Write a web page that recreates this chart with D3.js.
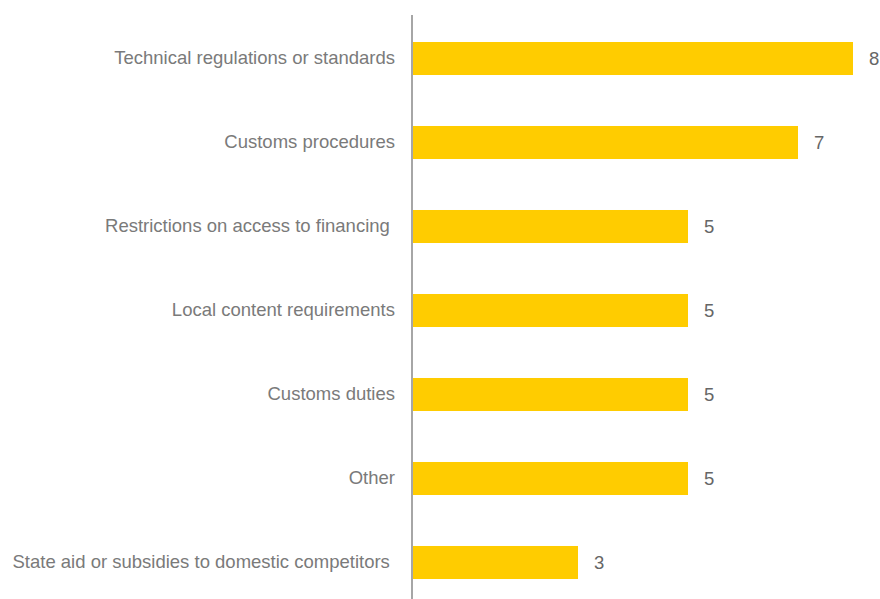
<!DOCTYPE html>
<html>
<head>
<meta charset="utf-8">
<script src="https://cdn.jsdelivr.net/npm/d3@7"></script>
<style>
  body { margin: 0; background: #fff; }
  svg { display: block; }
</style>
</head>
<body>
<svg id="chart"></svg>
<script>
// barrier categories, top to bottom
const categories = [
  "Technical regulations or standards",
  "Customs procedures",
  "Restrictions on access to financing ",
  "Local content requirements",
  "Customs duties",
  "Other",
  "State aid or subsidies to domestic competitors "
];
const values = [8, 7, 5, 5, 5, 5, 3];

const width = 880, height = 599;
const axisX = 412;

const svg = d3.select("#chart")
    .attr("width", width)
    .attr("height", height);

const data = categories.map((c, i) => ({ name: c, value: values[i] }));

const x = d3.scaleLinear()
    .domain([0, 8])
    .range([axisX + 1, axisX + 1 + 440]);

const y = d3.scaleBand()
    .domain(categories)
    .range([0, 621])
    .paddingInner(0.607)
    .paddingOuter(0.5);

// bars
svg.append("g")
  .selectAll("rect")
  .data(data)
  .join("rect")
    .attr("x", x(0))
    .attr("y", d => y(d.name))
    .attr("width", d => x(d.value) - x(0))
    .attr("height", y.bandwidth())
    .attr("fill", "#FFCC00");

// value labels
svg.append("g")
  .selectAll("text")
  .data(data)
  .join("text")
    .attr("x", d => x(d.value) + 16)
    .attr("y", d => y(d.name) + y.bandwidth() / 2)
    .attr("dy", "0.33em")
    .style("font-family", "'Liberation Sans', Arial, sans-serif")
    .style("font-size", "18.5px")
    .style("fill", "#666")
    .text(d => d.value);

// category labels
svg.append("g")
  .selectAll("text")
  .data(data)
  .join("text")
    .attr("x", axisX - 17)
    .attr("y", d => y(d.name) + y.bandwidth() / 2)
    .attr("dy", "0.3em")
    .attr("text-anchor", "end")
    .style("white-space", "pre")
    .style("font-family", "'Liberation Sans', Arial, sans-serif")
    .style("font-size", "18.5px")
    .style("fill", "#7a7a7a")
    .text(d => d.name);

// vertical axis line
svg.append("line")
    .attr("x1", axisX).attr("x2", axisX)
    .attr("y1", 15).attr("y2", height)
    .attr("stroke", "#888")
    .attr("stroke-width", 1.5);
</script>
</body>
</html>
